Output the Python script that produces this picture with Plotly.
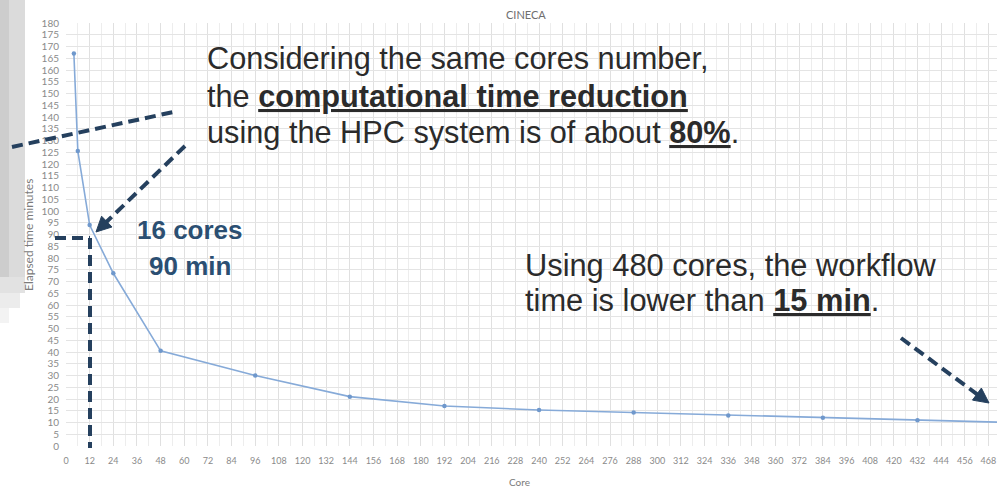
import math
import plotly.graph_objects as go

# ---------------- data ----------------
cores = [4, 6, 12, 24, 48, 96, 144, 192, 240, 288, 336, 384, 432, 480]
elapsed_minutes = [167, 125.5, 94, 73.5, 40.5, 30, 21, 17, 15.3, 14.3, 13, 12, 11, 10]
x_ticks = list(range(0, 481, 12))
y_ticks = list(range(0, 181, 5))

chart_title = "CINECA"
x_title = "Core"
y_title = "Elapsed time minutes"

# ---------------- layout geometry ----------------
FW, FH = 997, 491
ML, MR, MT, MB = 66, 0, 23, 45
PW, PH = FW - ML - MR, FH - MT - MB
X_MAX = PW / 1.971


def px(x):
    return (x - ML) / PW


def py(y):
    return 1 - (y - MT) / PH


NAVY = "#25405e"
DASH = "11px,6px"

fig = go.Figure()
fig.add_trace(go.Scatter(
    x=cores, y=elapsed_minutes, mode="lines+markers",
    line=dict(color="#86aad8", width=1.6),
    marker=dict(color="#6f98cc", size=4.5),
    showlegend=False, cliponaxis=False,
))

shapes = []
annotations = []

# grey slide fragments at the far left
for (x0, x1, y0, y1, c) in [
    (0, 9, 0, 277, "#cdcdcd"), (9, 25, 0, 277, "#dbdbdb"),
    (0, 25, 277, 293, "#e2e2e2"), (0, 20, 293, 308, "#ececec"),
    (0, 9, 308, 323, "#f3f3f3"),
]:
    shapes.append(dict(type="rect", xref="paper", yref="paper",
                       x0=px(x0), x1=px(x1), y0=py(y0), y1=py(y1),
                       fillcolor=c, line=dict(width=0), layer="below"))


def dashed(x0, y0, x1, y1, width=4):
    shapes.append(dict(type="line", xref="paper", yref="paper",
                       x0=px(x0), y0=py(y0), x1=px(x1), y1=py(y1),
                       line=dict(color=NAVY, width=width, dash=DASH)))


def arrow(x0, y0, x1, y1, head=15, half=7.5):
    dx, dy = x1 - x0, y1 - y0
    d = math.hypot(dx, dy)
    ux, uy = dx / d, dy / d
    bx, by = x1 - ux * head, y1 - uy * head
    dashed(x0, y0, bx + ux * 2, by + uy * 2)
    nx, ny = -uy, ux
    pts = [(x1, y1), (bx + nx * half, by + ny * half), (bx - nx * half, by - ny * half)]
    path = "M " + " L ".join(f"{px(a):.5f},{py(b):.5f}" for a, b in pts) + " Z"
    shapes.append(dict(type="path", xref="paper", yref="paper", path=path,
                       fillcolor=NAVY, line=dict(color=NAVY, width=1)))


dashed(12, 147, 178, 111)
arrow(185, 146, 96, 232)
dashed(55, 238, 90, 238)
dashed(90, 238, 90, 448)
arrow(901, 338, 989, 403)

TXT = "#2b2b2b"
FONT_MAIN = "Liberation Sans, Arial, sans-serif"


def label(x, y, text, size, color=TXT, xanchor="left"):
    annotations.append(dict(xref="paper", yref="paper", x=px(x), y=py(y),
                            text=text, showarrow=False, xanchor=xanchor, yanchor="middle",
                            font=dict(family=FONT_MAIN, size=size, color=color)))


label(205, 58, "Considering the same cores number,", 30.7)
label(205, 96, "the <b><u>computational time reduction</u></b>", 30.7)
label(205, 133, "using the HPC system is of about <b><u>80%</u></b>.", 30.7)
label(190, 230, "<b>16 cores</b>", 26, color="#2b4f72", xanchor="center")
label(190, 266, "<b>90 min</b>", 26, color="#2b4f72", xanchor="center")
label(523, 265, "Using 480 cores, the workflow", 30.8)
label(523, 300, "time is lower than <b><u>15 min</u></b>.", 30.8)

# chart texts
annotations.append(dict(xref="paper", yref="paper", x=px(526), y=py(15), text=chart_title,
                        showarrow=False, xanchor="center", yanchor="middle",
                        font=dict(family="Lato, sans-serif", size=11, color="#6e6e6e")))
annotations.append(dict(xref="paper", yref="paper", x=px(519), y=py(482), text=x_title,
                        showarrow=False, xanchor="center", yanchor="middle",
                        font=dict(family="Lato, sans-serif", size=10, color="#7a7a7a")))
annotations.append(dict(xref="paper", yref="paper", x=px(29), y=py(235), text=y_title,
                        textangle=-90, showarrow=False, xanchor="center", yanchor="middle",
                        font=dict(family="Lato, sans-serif", size=12, color="#7a7a7a")))

fig.update_layout(
    width=FW, height=FH,
    margin=dict(l=ML, r=MR, t=MT, b=MB),
    paper_bgcolor="white", plot_bgcolor="white",
    shapes=shapes, annotations=annotations,
    showlegend=False,
)
fig.update_xaxes(
    range=[0, X_MAX], tickvals=x_ticks, ticktext=[str(v) for v in x_ticks],
    showgrid=True, gridcolor="#e0e0e0", gridwidth=1,
    minor=dict(dtick=6, tick0=0, showgrid=True, gridcolor="#ededed"),
    zeroline=False, showline=False, ticks="",
    tickfont=dict(family="Lato, sans-serif", size=9, color="#8a8a8a"),
    ticklabelstandoff=8, automargin=False,
)
fig.update_yaxes(
    range=[0, 180], tickvals=y_ticks, ticktext=[str(v) for v in y_ticks],
    showgrid=True, gridcolor="#e4e4e4", gridwidth=1,
    zeroline=False, showline=False, ticks="",
    tickfont=dict(family="Lato, sans-serif", size=10, color="#8a8a8a"),
    ticklabelstandoff=6, automargin=False,
)

fig.write_html(
    "out.html",
    config={"displayModeBar": False},
    post_script="document.body.style.margin='0';document.body.style.overflow='hidden';",
)
